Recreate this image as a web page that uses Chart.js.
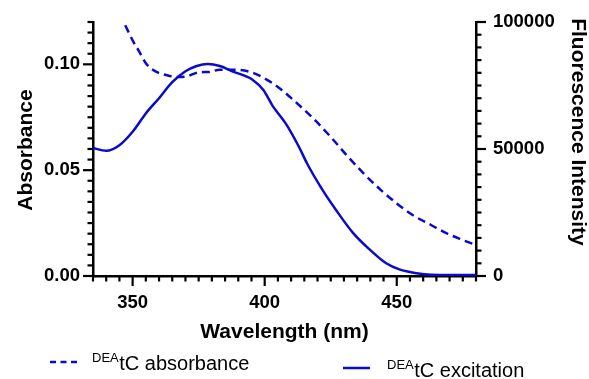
<!DOCTYPE html>
<html><head><meta charset="utf-8">
<script src="https://cdn.jsdelivr.net/npm/chart.js@4"></script>
<style>html,body{margin:0;padding:0;background:#fff}#wrap{width:589px;height:379px;position:relative}</style>
</head><body><div id="wrap"><canvas id="c" width="589" height="379"></canvas></div>
<script>
// ---- data ----
const absWavelengths = [345, 347, 350, 352.5, 355, 357, 359, 363, 367, 370.5, 375, 379, 383, 388, 394.5, 399.5, 406, 411, 418.5, 425, 431, 437.5, 444, 450, 456, 463, 469, 475, 480];
const absorbance     = [0.124, 0.119, 0.1113, 0.106, 0.1005, 0.098, 0.0964, 0.0948, 0.094, 0.0943, 0.0962, 0.0964, 0.0975, 0.0975, 0.0964, 0.0937, 0.0884, 0.083, 0.0743, 0.0657, 0.0571, 0.0484, 0.0406, 0.0343, 0.0288, 0.0241, 0.0201, 0.017, 0.0146];
const excWavelengths = [335, 340, 345, 350, 355, 360, 365, 370, 374, 378.5, 383, 388, 395.5, 399.5, 403, 408, 413, 416, 422, 427, 433.5, 440, 446, 451, 457.5, 463, 470, 480];
const excitation     = [50400, 49300, 51500, 56800, 64000, 70000, 76300, 80600, 82600, 83500, 82700, 80500, 77200, 73200, 67000, 60000, 50800, 44400, 33700, 26000, 16900, 10200, 5000, 2600, 1100, 500, 400, 400];

const xMajorTicks   = [350, 400, 450];
const absMajorTicks = [0, 0.05, 0.10];
const fluMajorTicks = [0, 50000, 100000];

const seriesPrefix = 'DEA';
const seriesNames  = ['tC absorbance', 'tC excitation'];
const xTitle  = 'Wavelength (nm)';
const yTitle  = 'Absorbance';
const y2Title = 'Fluorescence Intensity';

// ---- styling ----
const BLUE = '#0a0acc';
const FONT = '"Liberation Sans", Arial, Helvetica, sans-serif';
const isMajor = (v, list) => list.some(m => Math.abs(m - v) < 1e-9);

const absData = absWavelengths.map((x, i) => ({x, y: absorbance[i]}));
const excData = excWavelengths.map((x, i) => ({x, y: excitation[i]}));

const tickPlugin = {
  id: 'ticksAndText',
  afterDraw(chart) {
    const ctx = chart.ctx;
    const {x, y, y2} = chart.scales;
    const area = chart.chartArea;
    ctx.save();
    ctx.strokeStyle = '#000';
    ctx.lineWidth = 2.2;
    ctx.lineCap = 'butt';
    x.ticks.forEach(t => {
      const p = x.getPixelForValue(t.value);
      const len = isMajor(t.value, xMajorTicks) ? 10 : 5.5;
      ctx.beginPath(); ctx.moveTo(p, area.bottom); ctx.lineTo(p, area.bottom + len); ctx.stroke();
    });
    y.ticks.forEach(t => {
      const p = y.getPixelForValue(t.value);
      const len = isMajor(t.value, absMajorTicks) ? 10 : 5.5;
      ctx.beginPath(); ctx.moveTo(area.left, p); ctx.lineTo(area.left - len, p); ctx.stroke();
    });
    y2.ticks.forEach(t => {
      const p = y2.getPixelForValue(t.value);
      const len = isMajor(t.value, fluMajorTicks) ? 10 : 5.5;
      ctx.beginPath(); ctx.moveTo(area.right, p); ctx.lineTo(area.right + len, p); ctx.stroke();
    });

    // axis titles
    ctx.fillStyle = '#000';
    ctx.font = 'bold 21px ' + FONT;
    ctx.textAlign = 'center';
    ctx.textBaseline = 'alphabetic';
    ctx.fillText(xTitle, (area.left + area.right) / 2, 338);
    ctx.save();
    ctx.translate(32, 150);
    ctx.rotate(-Math.PI / 2);
    ctx.fillText(yTitle, 0, 0);
    ctx.restore();
    ctx.save();
    ctx.translate(572, 132);
    ctx.rotate(Math.PI / 2);
    ctx.fillText(y2Title, 0, 0);
    ctx.restore();

    // legend
    const items = [
      {x0: 50, x1: 77, ly: 362, tx: 92, base: 370, dash: [6, 4.5], label: seriesNames[0]},
      {x0: 343, x1: 370, ly: 368, tx: 387, base: 377, dash: [], label: seriesNames[1]}
    ];
    items.forEach(it => {
      ctx.strokeStyle = BLUE;
      ctx.lineWidth = 2.5;
      ctx.setLineDash(it.dash);
      ctx.beginPath(); ctx.moveTo(it.x0, it.ly); ctx.lineTo(it.x1, it.ly); ctx.stroke();
      ctx.setLineDash([]);
      ctx.fillStyle = '#000';
      ctx.textAlign = 'left';
      ctx.font = '13px ' + FONT;
      ctx.fillText(seriesPrefix, it.tx, it.base - 8);
      const w = ctx.measureText(seriesPrefix).width;
      ctx.font = '20px ' + FONT;
      ctx.fillText(it.label, it.tx + w + 0.5, it.base);
    });
    ctx.restore();
  }
};

const tickFont = {family: FONT, size: 18.5, weight: 'bold'};
const noPad = s => { s.paddingTop = 0; s.paddingBottom = 0; s.paddingLeft = 0; s.paddingRight = 0; };

new Chart(document.getElementById('c'), {
  type: 'line',
  data: {
    datasets: [
      {label: seriesPrefix + seriesNames[0], data: absData, yAxisID: 'y', borderColor: BLUE, borderWidth: 2.5,
       borderDash: [8, 5], pointRadius: 0, fill: false, cubicInterpolationMode: 'monotone'},
      {label: seriesPrefix + seriesNames[1], data: excData, yAxisID: 'y2', borderColor: BLUE, borderWidth: 2.5,
       pointRadius: 0, fill: false, cubicInterpolationMode: 'monotone'}
    ]
  },
  options: {
    responsive: false,
    devicePixelRatio: 1,
    animation: false,
    layout: {padding: {top: 22, left: 0, right: 0, bottom: 0}},
    plugins: {legend: {display: false}, tooltip: {enabled: false}},
    scales: {
      x: {
        type: 'linear', min: 335, max: 480,
        ticks: {stepSize: 5, autoSkip: false, maxRotation: 0, font: tickFont, color: '#000', padding: 16,
                callback: v => isMajor(v, xMajorTicks) ? String(v) : ''},
        grid: {display: true, drawOnChartArea: false, drawTicks: false},
        border: {display: true, color: '#000', width: 2.5},
        afterFit: s => { s.height = 103; noPad(s); }
      },
      y: {
        position: 'left', min: 0, max: 0.12,
        ticks: {stepSize: 0.005, autoSkip: false, font: tickFont, color: '#000', padding: 13,
                callback: v => isMajor(v, absMajorTicks) ? v.toFixed(2) : ''},
        grid: {display: true, drawOnChartArea: false, drawTicks: false},
        border: {display: true, color: '#000', width: 2.5},
        afterFit: s => { s.width = 93; noPad(s); }
      },
      y2: {
        position: 'right', min: 0, max: 100000,
        ticks: {stepSize: 5000, autoSkip: false, font: tickFont, color: '#000', padding: 17,
                callback: v => isMajor(v, fluMajorTicks) ? String(v) : ''},
        grid: {display: true, drawOnChartArea: false, drawTicks: false},
        border: {display: true, color: '#000', width: 2.5},
        afterFit: s => { s.width = 113; noPad(s); }
      }
    }
  },
  plugins: [tickPlugin]
});
</script>
</body></html>
